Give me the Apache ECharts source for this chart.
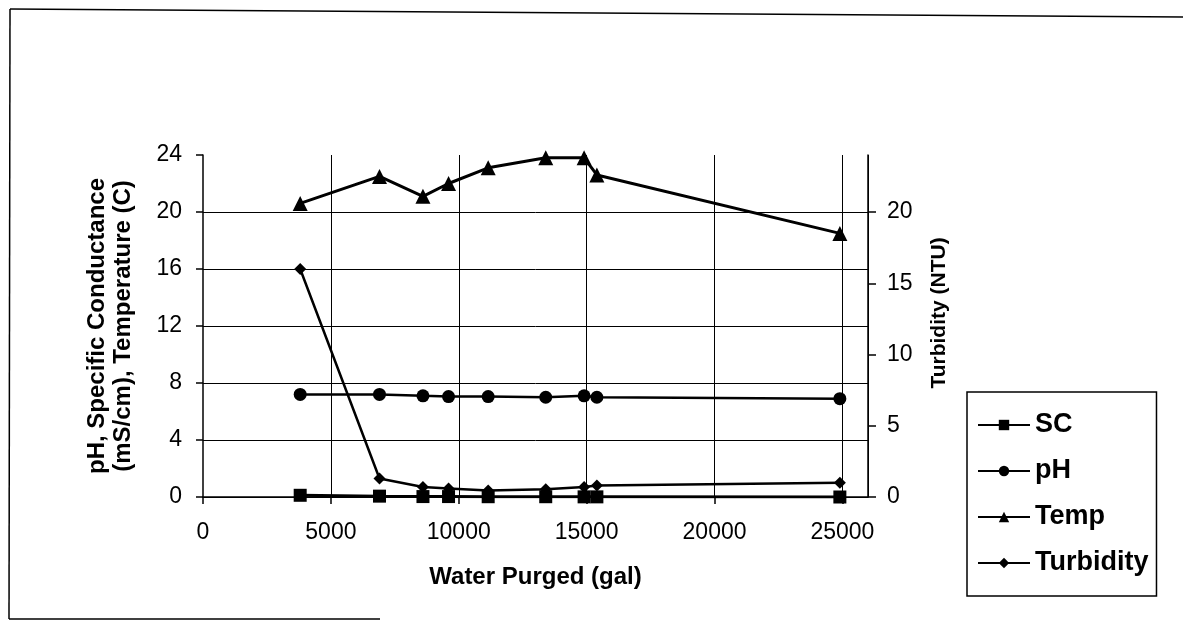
<!DOCTYPE html>
<html>
<head>
<meta charset="utf-8">
<script src="https://cdn.jsdelivr.net/npm/echarts@6/dist/echarts.min.js"></script>
<style>
  html, body { margin: 0; padding: 0; background: #fff; }
  #chart { width: 1183px; height: 621px; }
</style>
</head>
<body>
<div id="chart"></div>
<script>
// water purged (gal) for each reading
const purged = [3800, 6900, 8600, 9600, 11150, 13400, 14900, 15400, 24900];
const sc = [0.12, 0.06, 0.03, 0.03, 0.02, 0.02, 0.01, 0.01, 0.0];
const ph = [7.2, 7.2, 7.1, 7.05, 7.05, 7.0, 7.1, 7.0, 6.9];
const temp = [20.6, 22.5, 21.1, 22.0, 23.1, 23.8, 23.8, 22.6, 18.5];
const turbidity = [16.0, 1.3, 0.7, 0.6, 0.45, 0.55, 0.7, 0.8, 1.0];

const seriesNames = ['SC', 'pH', 'Temp', 'Turbidity'];

const FONT = 'Liberation Sans, Arial, sans-serif';

function pairs(ys) {
    return purged.map((x, i) => [x, ys[i]]);
}

const myChart = echarts.init(document.getElementById('chart'));

const lineSeries = (name, ys, symbol, size, yAxisIndex, width) => ({
    name: name,
    type: 'line',
    yAxisIndex: yAxisIndex,
    data: pairs(ys),
    symbol: symbol,
    symbolSize: size,
    showAllSymbol: true,
    lineStyle: { color: '#000', width: width },
    itemStyle: { color: '#000' },
    emphasis: { disabled: true },
    animation: false
});

const option = {
    backgroundColor: '#fff',
    animation: false,
    textStyle: { fontFamily: FONT, color: '#000' },
    grid: { left: 203, right: 315, top: 155, bottom: 124 },
    graphic: [
        // outer frame of the scanned figure
        { type: 'line', shape: { x1: 10, y1: 9, x2: 1183, y2: 17 }, style: { stroke: '#000', lineWidth: 1.5 } },
        { type: 'line', shape: { x1: 10, y1: 9, x2: 9, y2: 619 }, style: { stroke: '#000', lineWidth: 1.5 } },
        { type: 'line', shape: { x1: 9, y1: 619, x2: 380, y2: 619 }, style: { stroke: '#000', lineWidth: 1.5 } }
    ],
    legend: {
        data: seriesNames,
        orient: 'vertical',
        left: 967,
        top: 392,
        padding: [19, 8, 19, 10],
        itemWidth: 52,
        itemHeight: 13,
        itemGap: 18,
        borderColor: '#000',
        borderWidth: 1.5,
        selectedMode: false,
        textStyle: { fontFamily: FONT, fontSize: 27, fontWeight: 'bold', color: '#000', lineHeight: 28 }
    },
    xAxis: {
        type: 'value',
        min: 0,
        max: 26000,
        interval: 5000,
        name: 'Water Purged (gal)',
        nameLocation: 'middle',
        nameGap: 68,
        nameTextStyle: { fontFamily: FONT, fontSize: 24, fontWeight: 'bold', color: '#000' },
        axisLine: { show: true, onZero: false, lineStyle: { color: '#000', width: 1.5 } },
        axisTick: { show: true, length: 7, lineStyle: { color: '#000', width: 1.5 } },
        axisLabel: {
            fontFamily: FONT, fontSize: 23, color: '#000', margin: 24, showMaxLabel: false,
            formatter: (v) => String(v)
        },
        splitLine: { show: true, showMinLine: false, lineStyle: { color: '#000', width: 1 } }
    },
    yAxis: [
        {
            type: 'value',
            position: 'left',
            min: 0,
            max: 24,
            interval: 4,
            name: 'pH, Specific Conductance\n(mS/cm), Temperature (C)',
            nameLocation: 'middle',
            nameRotate: 90,
            nameGap: 67,
            nameTextStyle: { fontFamily: FONT, fontSize: 24, fontWeight: 'bold', color: '#000', lineHeight: 26 },
            axisLine: { show: true, lineStyle: { color: '#000', width: 1.5 } },
            axisTick: { show: true, length: 7, lineStyle: { color: '#000', width: 1.5 } },
            axisLabel: { fontFamily: FONT, fontSize: 23, color: '#000', margin: 21 },
            splitLine: { show: true, showMaxLine: false, lineStyle: { color: '#000', width: 1 } }
        },
        {
            type: 'value',
            position: 'right',
            min: 0,
            max: 24,
            interval: 5,
            name: 'Turbidity (NTU)',
            nameLocation: 'middle',
            nameRotate: 90,
            nameGap: 61,
            nameTextStyle: {
                fontFamily: FONT, fontSize: 21, fontWeight: 'bold', color: '#000',
                padding: [0, 0, 0, 26]
            },
            axisLine: { show: true, lineStyle: { color: '#000', width: 1.5 } },
            axisTick: { show: true, length: 8, lineStyle: { color: '#000', width: 1.5 } },
            axisLabel: { fontFamily: FONT, fontSize: 23, color: '#000', margin: 19, showMaxLabel: false },
            splitLine: { show: false }
        }
    ],
    series: [
        lineSeries('SC', sc, 'rect', 13, 0, 3),
        lineSeries('pH', ph, 'circle', 13, 0, 2.5),
        lineSeries('Temp', temp, 'triangle', 15, 0, 3),
        lineSeries('Turbidity', turbidity, 'diamond', 12, 1, 2.5)
    ]
};

myChart.setOption(option);
window.addEventListener('resize', myChart.resize);
</script>
</body>
</html>
